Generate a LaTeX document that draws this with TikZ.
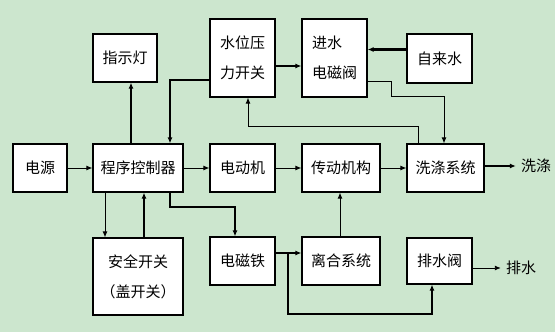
\documentclass[tikz,border=0pt]{standalone}
\usepackage{fontspec}
\usepackage{tikz}
\usetikzlibrary{arrows.meta,positioning,calc}
\newfontfamily\cjk{Noto Sans CJK SC}
\definecolor{PanelGreen}{RGB}{204,230,206}
\tikzset{
  wmbox/.style={draw=black, fill=white, line width=1.2pt, inner sep=2pt, align=center},
  wmlabel/.style={inner sep=5pt},
  thinflow/.style={->, line width=0.9pt},
  thickflow/.style={->, line width=2.2pt},
}

\begin{document}
\begin{tikzpicture}[>={Latex[length=6pt,width=5pt]}, x=1pt, y=1pt, every node/.style={font=\cjk\fontsize{15}{30}\selectfont}]
      \fill[PanelGreen] (0,0) rectangle (555,-332);
      \useasboundingbox (0,0) rectangle (555,-332);

      % top row
      \node[wmbox, minimum width=64pt, minimum height=48pt] (lamp) at (125,-58) {指示灯};
      \node[wmbox, minimum width=65pt, minimum height=78pt] (levelsw) at (242.5,-58) {水位压\\力开关};
      \node[wmbox, minimum width=65pt, minimum height=78pt, align=left] (inletvalve) at (334.5,-58) {进水\\电磁阀};
      \node[wmbox, minimum width=65pt, minimum height=49pt] (tapwater) at (439.5,-58.5) {自来水};

      % middle row
      \node[wmbox, minimum width=54pt, minimum height=48pt] (power) at (40,-168) {电源};
      \node[wmbox, minimum width=90pt, minimum height=48pt] (ctrl) at (138,-168) {程序控制器};
      \node[wmbox, minimum width=65pt, minimum height=48pt] (motor) at (242.5,-168) {电动机};
      \node[wmbox, minimum width=78pt, minimum height=48pt] (trans) at (341,-168) {传动机构};
      \node[wmbox, minimum width=77pt, minimum height=48pt] (washsys) at (445.5,-168) {洗涤系统};
      \node[wmlabel] (washout) at (536,-166) {洗涤};

      % bottom row
      \node[wmbox, minimum width=90pt, minimum height=77pt] (safety) at (138,-276.5) {安全开关\\（盖开关）};
      \node[wmbox, minimum width=65pt, minimum height=48pt] (magnet) at (242.5,-261) {电磁铁};
      \node[wmbox, minimum width=78pt, minimum height=48pt] (clutch) at (341,-261) {离合系统};
      \node[wmbox, minimum width=65pt, minimum height=46pt] (drainvalve) at (439.5,-261) {排水阀};
      \node[wmlabel] (drainout) at (521,-268) {排水};

      \draw[thinflow] (power) -- (ctrl);
      \draw[thinflow] (ctrl) -- (motor);
      \draw[thinflow] (motor) -- (trans);
      \draw[thinflow] (trans) -- (washsys);
      \draw[thickflow] (washsys.east |- washout) -- (washout);

      \draw[thickflow] ([xshift=-7pt]ctrl.north) -- ([xshift=-7pt]ctrl.north |- lamp.south);
      \draw[thickflow] ([yshift=-22pt]levelsw.west) -| ([xshift=32pt]ctrl.north);
      \draw[thickflow] ([yshift=-8pt]levelsw.east) -- ([yshift=-8pt]inletvalve.west);
      \draw[thickflow] ([yshift=9pt]tapwater.west) -- ([yshift=9pt]tapwater.west -| inletvalve.east);
      \draw[thinflow] ([yshift=-23pt]inletvalve.east) -- ++(24,0) -- ++(0,-15) -| ([xshift=-1.5pt]washsys.north);
      \draw[thinflow] ([xshift=-27.5pt]washsys.north) -- ++(0,17) -| ([xshift=5.5pt]levelsw.south);

      \draw[thinflow] ([xshift=-33pt]ctrl.south) -- ([xshift=-33pt]ctrl.south |- safety.north);
      \draw[thickflow] ([xshift=6pt]safety.north) -- ([xshift=6pt]safety.north |- ctrl.south);
      \draw[thickflow] ([xshift=32pt]ctrl.south) -- ++(0,-14) -| ([xshift=-7.5pt]magnet.north);
      \draw[thickflow] ([yshift=8pt]magnet.east) -- ([yshift=8pt]clutch.west);
      \coordinate (split) at ([xshift=12pt,yshift=8pt]magnet.east);
      \draw[thickflow] (split) -- ++(0,-61) -| ([xshift=-7.5pt]drainvalve.south);
      \draw[thinflow] ([xshift=-1pt]clutch.north) -- ([xshift=-1pt]trans.south);
      \draw[thinflow] (drainvalve.east |- drainout) -- (drainout);
    \end{tikzpicture}
\end{document}
